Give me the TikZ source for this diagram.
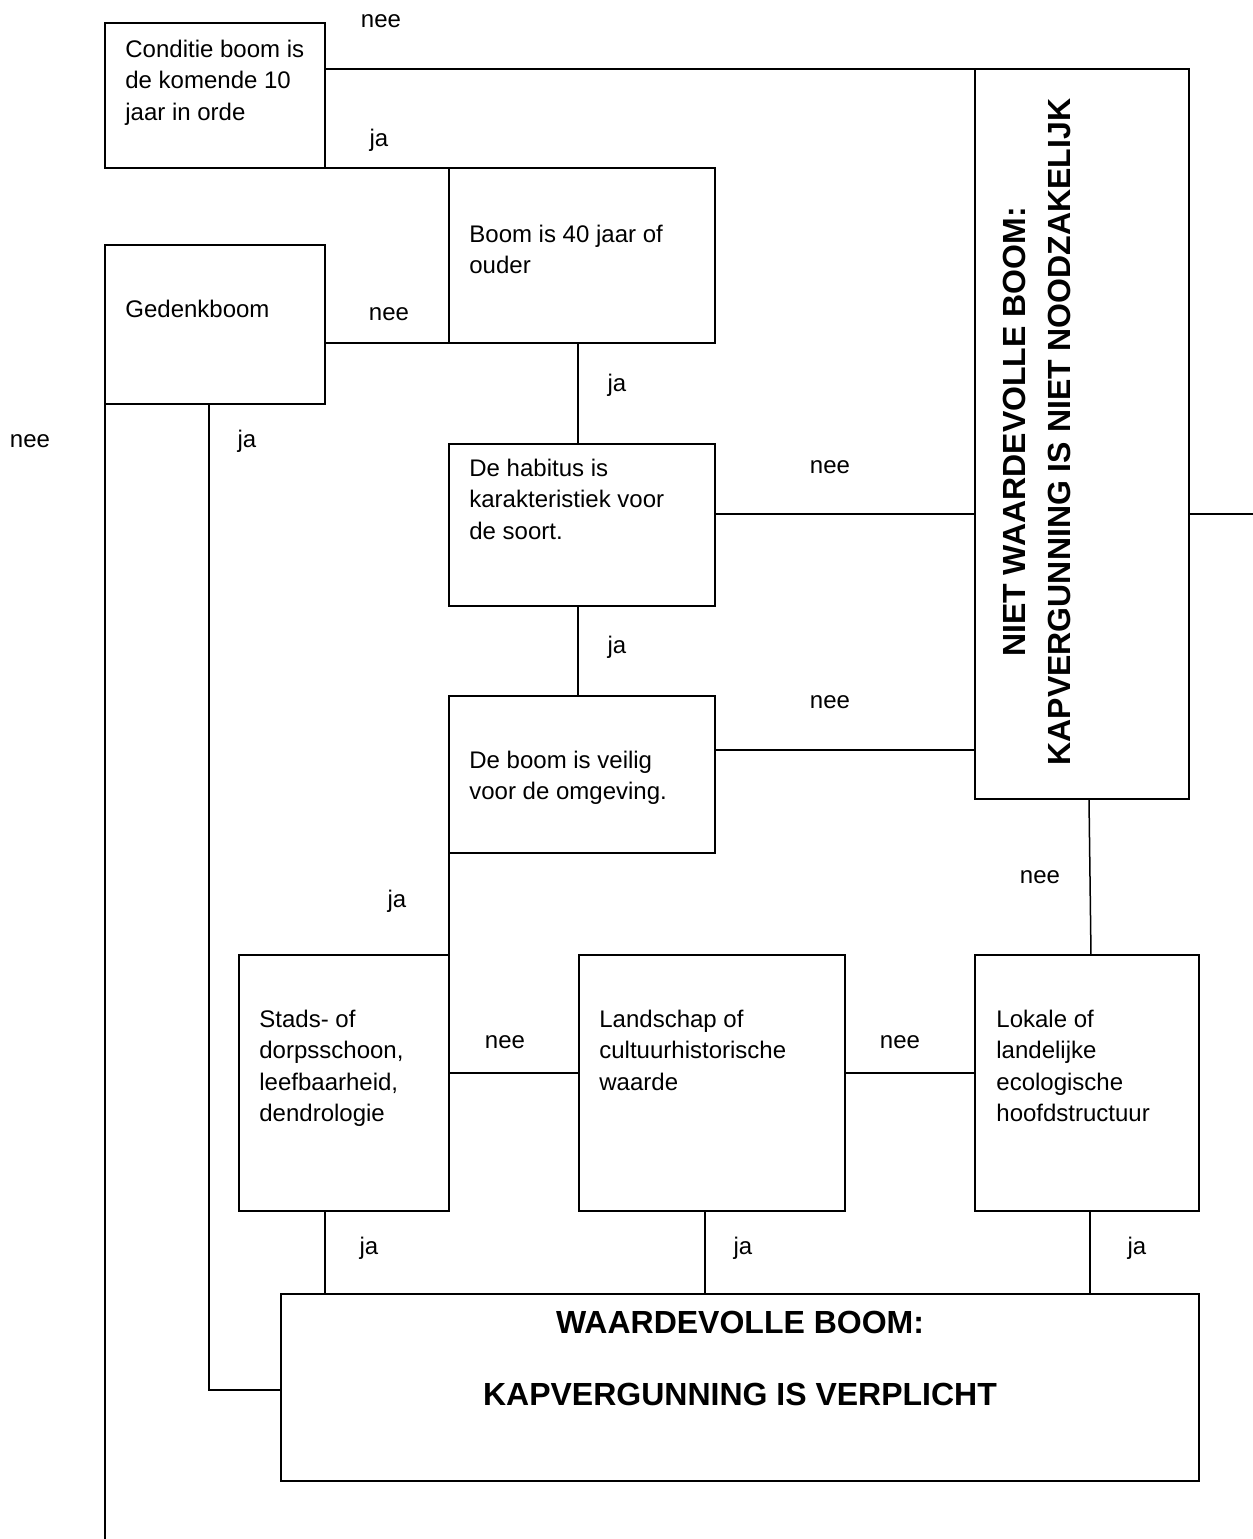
\documentclass[tikz,border=0pt]{standalone}
\usepackage{fontspec}
\setmainfont{Liberation Sans}
\begin{document}
\begin{tikzpicture}[x=0.5pt,y=-0.5pt,
  box/.style={draw, line width=0.75pt, inner sep=0pt, outer sep=0pt, rectangle},
  txt/.style={inner sep=0pt, align=left, anchor=north west, font=\fontsize{12pt}{15.75pt}\selectfont},
  lbl/.style={inner sep=0pt, anchor=base, font=\fontsize{12pt}{15.75pt}\selectfont},
  conn/.style={line width=0.75pt}]
\useasboundingbox (0,0) rectangle (1253,1539);

% boxes
\node[box, minimum width=110pt, minimum height=72.5pt] (box1) at (215,95.5) {};
\node[box, minimum width=133pt, minimum height=87.5pt] (boom40) at (582,255.5) {};
\node[box, minimum width=110pt, minimum height=79.5pt] (ged) at (215,324.5) {};
\node[box, minimum width=133pt, minimum height=81pt] (habitus) at (582,525) {};
\node[box, minimum width=133pt, minimum height=78.5pt] (veilig) at (582,774.5) {};
\node[box, minimum width=107pt, minimum height=365pt] (niet) at (1082,434) {};
\node[box, minimum width=105pt, minimum height=128pt] (stads) at (344,1083) {};
\node[box, minimum width=133pt, minimum height=128pt] (land) at (712,1083) {};
\node[box, minimum width=112pt, minimum height=128pt] (lokale) at (1087,1083) {};
\node[box, minimum width=459pt, minimum height=93.5pt] (waard) at (740,1387.5) {};

% box texts
\node[txt] (box1t) at (125,39.5) {Conditie boom is\\de komende 10\\jaar in orde};
\node[txt] (boom40t) at (469,224.5) {Boom is 40 jaar of\\ouder};
\node[txt] (gedt) at (125,300) {Gedenkboom};
\node[txt] (habitust) at (469,458.5) {De habitus is\\karakteristiek voor\\de soort.};
\node[txt] (veiligt) at (469,750.5) {De boom is veilig\\voor de omgeving.};
\node[txt] (stadst) at (259,1009.5) {Stads- of\\dorpsschoon,\\leefbaarheid,\\dendrologie};
\node[txt] (landt) at (599,1009.5) {Landschap of\\cultuurhistorische\\waarde};
\node[txt] (lokalet) at (996,1009.5) {Lokale of\\landelijke\\ecologische\\hoofdstructuur};

\node[inner sep=0pt, rotate=90, align=center, anchor=center,
  font=\fontsize{16pt}{22.5pt}\selectfont\bfseries] (niett) at (1037,432)
  {NIET WAARDEVOLLE BOOM:\\KAPVERGUNNING IS NIET NOODZAKELIJK};
\node[inner sep=0pt, align=center, anchor=north,
  font=\fontsize{16pt}{36pt}\selectfont\bfseries] (waardt) at (740,1311)
  {WAARDEVOLLE BOOM:\\KAPVERGUNNING IS VERPLICHT};

% free ends
\coordinate (bl) at (105,1539);
\coordinate (redge) at (1253,514);

% connectors
\draw[conn] (box1.east |- niet.north west) -- (niet.north west);
\draw[conn] (box1.south east) -- (boom40.north west);
\draw[conn] (ged.east |- boom40.south west) -- (boom40.south west);
\draw[conn] (ged.south west) -- (bl);
\draw[conn] ([xshift=-3pt]ged.south) |- ([yshift=-1.25pt]waard.west);
\draw[conn] ([xshift=-2pt]boom40.south) -- ([xshift=-2pt]habitus.north);
\draw[conn] ([yshift=5.5pt]habitus.east) coordinate (h1) -- (niet.west |- h1);
\draw[conn] (niet.east |- h1) -- (redge);
\draw[conn] ([xshift=-2pt]habitus.south) -- ([xshift=-2pt]veilig.north);
\draw[conn] ([yshift=12.25pt]veilig.east) coordinate (v1) -- (niet.west |- v1);
\draw[conn] (veilig.south west) -- (stads.north east);
\draw[conn] ([xshift=3.5pt]niet.south) -- ([xshift=2pt]lokale.north);
\draw[conn] ([yshift=5pt]stads.east) coordinate (s1) -- (land.west |- s1);
\draw[conn] (land.east |- s1) -- (lokale.west |- s1);
\draw[conn] ([xshift=-9.5pt]stads.south) coordinate (s2) -- (waard.north -| s2);
\draw[conn] ([xshift=-3.5pt]land.south) coordinate (l2) -- (waard.north -| l2);
\draw[conn] ([xshift=1.5pt]lokale.south) coordinate (k2) -- (waard.north -| k2);

% labels
\node[lbl] (n1) at (381,27) {nee};
\node[lbl] (j1) at (379,146) {ja};
\node[lbl] (n2) at (389,320) {nee};
\node[lbl] (j2) at (617,391) {ja};
\node[lbl] (n0) at (30,447) {nee};
\node[lbl] (j0) at (247,447) {ja};
\node[lbl] (n3) at (830,473) {nee};
\node[lbl] (j3) at (617,653) {ja};
\node[lbl] (n4) at (830,708) {nee};
\node[lbl] (n5) at (1040,883) {nee};
\node[lbl] (j4) at (397,907) {ja};
\node[lbl] (n6) at (505,1048) {nee};
\node[lbl] (n7) at (900,1048) {nee};
\node[lbl] (j5) at (369,1254) {ja};
\node[lbl] (j6) at (743,1254) {ja};
\node[lbl] (j7) at (1137,1254) {ja};
\end{tikzpicture}
\end{document}
